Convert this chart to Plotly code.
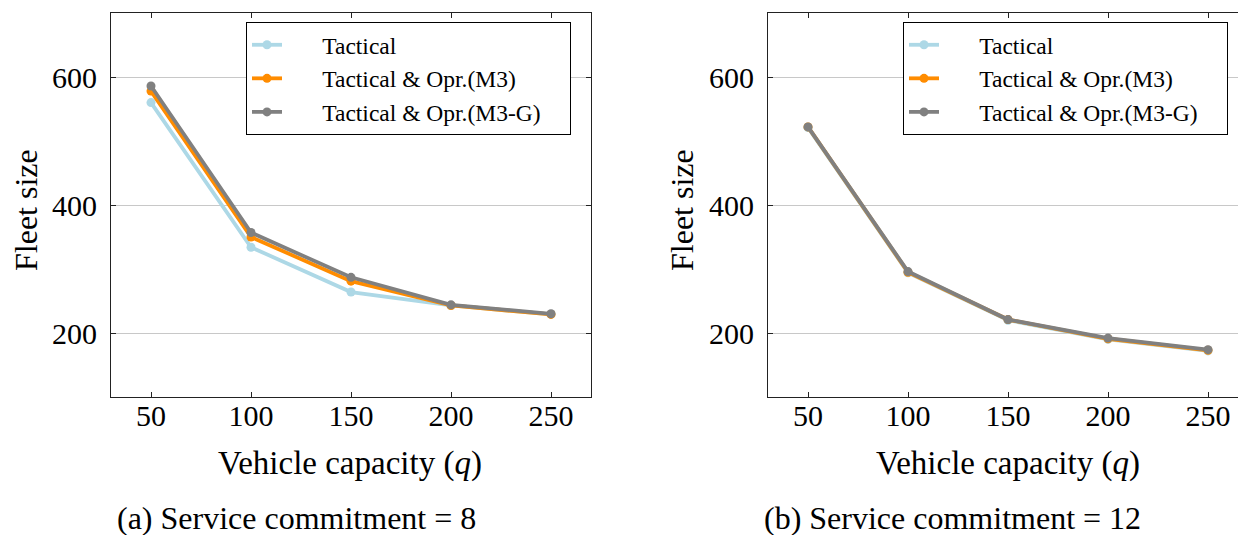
import plotly.graph_objects as go

capacity = [50, 100, 150, 200, 250]
series_names = ["Tactical", "Tactical & Opr.(M3)", "Tactical & Opr.(M3-G)"]
colors = ["#ADD8E6", "#FF8C00", "#808080"]

# Panel (a): service commitment = 8
a_tactical = [560, 334, 264, 243, 229]
a_m3 = [578, 350, 281, 243, 229]
a_m3g = [586, 357, 287, 244, 230]

# Panel (b): service commitment = 12
b_tactical = [521, 294, 220, 190, 172]
b_m3 = [522, 295, 221, 191, 173]
b_m3g = [522, 296, 221, 192, 174]

y_ticks = [200, 400, 600]
x_ticks = [50, 100, 150, 200, 250]

FONT = "Liberation Serif"
OFF = 8  # page body margin
W, H = 1246 - OFF, 535 - OFF


def fx(px):
    return (px - OFF) / W


def fy(py):
    return 1 - (py - OFF) / H


fig = go.Figure()

PRE = "\u00a0" * 6
POST = "\u00a0" * 4
for vals, name, col in zip([a_tactical, a_m3, a_m3g], series_names, colors):
    fig.add_trace(go.Scatter(x=capacity, y=vals, name=PRE + name + POST, mode="lines+markers",
                             line=dict(color=col, width=3.8), marker=dict(color=col, size=9),
                             xaxis="x", yaxis="y", legend="legend"))
for vals, name, col in zip([b_tactical, b_m3, b_m3g], series_names, colors):
    fig.add_trace(go.Scatter(x=capacity, y=vals, name=PRE + name + POST, mode="lines+markers",
                             line=dict(color=col, width=3.8), marker=dict(color=col, size=9),
                             xaxis="x2", yaxis="y2", legend="legend2"))

ydom = [fy(397), fy(13)]
axis_common = dict(showline=True, linecolor="#222222", linewidth=1.2, mirror="ticks",
                   ticks="inside", ticklen=5, tickcolor="#222222", tickwidth=1,
                   tickfont=dict(family=FONT, size=30, color="black"), zeroline=False)

fig.update_layout(
    width=W, height=H,
    margin=dict(l=0, r=0, t=0, b=0),
    paper_bgcolor="white", plot_bgcolor="white",
    font=dict(family=FONT, color="black"),
    xaxis=dict(domain=[fx(111), fx(591)], range=[30, 270], tickvals=x_ticks,
               showgrid=False, anchor="y", ticklabelstandoff=-8, **axis_common),
    yaxis=dict(domain=ydom, range=[100, 700], tickvals=y_ticks, showgrid=True,
               gridcolor="#C8C8C8", gridwidth=1, anchor="x", ticklabelstandoff=7, **axis_common),
    xaxis2=dict(domain=[fx(768), 1.0], range=[30, 269], tickvals=x_ticks,
                showgrid=False, anchor="y2", ticklabelstandoff=-8, **axis_common),
    yaxis2=dict(domain=ydom, range=[100, 700], tickvals=y_ticks, showgrid=True,
                gridcolor="#C8C8C8", gridwidth=1, anchor="x2", ticklabelstandoff=7, **axis_common),
    legend=dict(x=fx(246), y=fy(22), xanchor="left", yanchor="top",
                bordercolor="black", borderwidth=1, bgcolor="white",
                font=dict(family=FONT, size=23.5, color="black"), tracegroupgap=0),
    legend2=dict(x=fx(903), y=fy(22), xanchor="left", yanchor="top",
                 bordercolor="black", borderwidth=1, bgcolor="white",
                 font=dict(family=FONT, size=23.5, color="black"), tracegroupgap=0),
)

ann_font_big = dict(family=FONT, size=33, color="black")
ann_font_y = dict(family=FONT, size=32, color="black")
ann_font_cap = dict(family=FONT, size=32, color="black")
annotations = [
    dict(text="Vehicle capacity (<i>q</i>)", x=fx(350), y=fy(463), font=ann_font_big),
    dict(text="Vehicle capacity (<i>q</i>)", x=fx(1008), y=fy(463), font=ann_font_big),
    dict(text="Fleet size", x=fx(26), y=fy(210), textangle=-90, font=ann_font_y),
    dict(text="Fleet size", x=fx(682), y=fy(210), textangle=-90, font=ann_font_y),
    dict(text="(a) Service commitment = 8", x=fx(296), y=fy(518), font=ann_font_cap),
    dict(text="(b) Service commitment = 12", x=fx(952), y=fy(518), font=ann_font_cap),
]
for a in annotations:
    fig.add_annotation(xref="paper", yref="paper", showarrow=False,
                       xanchor="center", yanchor="middle", **a)

fig.write_html("out.html")
